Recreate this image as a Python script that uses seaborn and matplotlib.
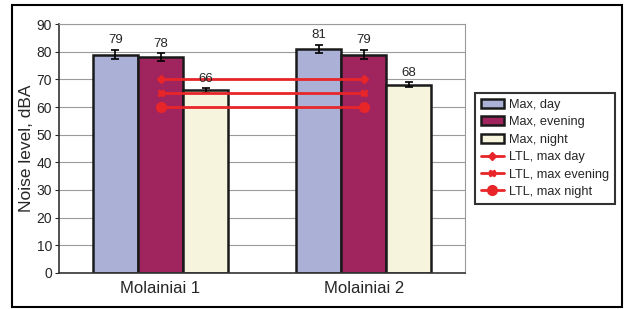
import seaborn as sns
import matplotlib.pyplot as plt
import pandas as pd
from matplotlib.patches import Rectangle

sites = ['Molainiai 1', 'Molainiai 2']
series = ['Max, day', 'Max, evening', 'Max, night']
max_day = [79, 81]
max_evening = [78, 79]
max_night = [66, 68]
err_day = [1.8, 1.6]
err_evening = [1.5, 1.8]
err_night = [0.8, 0.9]

ltl_names = ['LTL, max day', 'LTL, max evening', 'LTL, max night']
ltl_values = [70, 65, 60]
ltl_markers = ['D', 'X', 'o']
ltl_sizes = [4, 5, 7]

colors = ['#aab0d6', '#a0245e', '#f6f4dc']

df = pd.DataFrame({
    'site': sites * 3,
    'series': [s for s in series for _ in sites],
    'value': max_day + max_evening + max_night,
    'err': err_day + err_evening + err_night,
})

sns.set_style('white')
plt.rcParams['font.family'] = ['Liberation Sans', 'DejaVu Sans']

fig = plt.figure(figsize=(6.27, 3.09), dpi=100)
ax = fig.add_axes([0.094, 0.117, 0.648, 0.805])

sns.barplot(data=df, x='site', y='value', hue='series', palette=colors,
            errorbar=None, width=0.665, edgecolor='#1a1a1a', linewidth=1.8,
            saturation=1, ax=ax, zorder=2)

# error bars + value labels on the bars
for cont, s in zip(ax.containers, series):
    sub = df[df['series'] == s]
    for bar, v, e in zip(cont, sub['value'], sub['err']):
        cx = bar.get_x() + bar.get_width() / 2
        ax.errorbar(cx, v, yerr=e, color='black', capsize=3, elinewidth=1.2,
                    capthick=1.2, zorder=3)
        ax.text(cx, v + e + 1.2, str(v), ha='center', va='bottom',
                fontsize=9.5, zorder=6)

# LTL lines between the two sites
line_handles = []
for name, val, m, ms in zip(ltl_names, ltl_values, ltl_markers, ltl_sizes):
    h, = ax.plot([0, 1], [val, val], color='#e8262a', lw=2, marker=m,
                 markersize=ms, zorder=4, label=name)
    line_handles.append(h)

ax.set_ylim(0, 90)
ax.set_yticks(range(0, 91, 10))
ax.set_xlim(-0.5, 1.5)
ax.yaxis.grid(True, color='#9a9a9a', lw=0.8, zorder=0)
ax.set_axisbelow(True)
ax.set_xlabel('')
ax.set_ylabel('Noise level, dBA', fontsize=12.5, labelpad=2)
ax.tick_params(axis='y', labelsize=10, length=3, left=True, pad=2)
ax.tick_params(axis='x', labelsize=12, length=0, pad=6)
for side in ['top', 'right']:
    ax.spines[side].set_color('#9a9a9a')
    ax.spines[side].set_linewidth(0.8)
for side in ['left', 'bottom']:
    ax.spines[side].set_color('#333333')
    ax.spines[side].set_linewidth(1.2)

bar_handles, _ = ax.get_legend_handles_labels()
handles = bar_handles[:3] + line_handles
leg = ax.legend(handles, series + ltl_names, loc='center left',
                bbox_to_anchor=(1.024, 0.5), frameon=True, fancybox=False,
                fontsize=9.2, handlelength=1.8, handletextpad=0.4,
                labelspacing=0.42, borderpad=0.45, borderaxespad=0)
leg.get_frame().set_edgecolor('black')
leg.get_frame().set_linewidth(1.5)

fig.patches.append(Rectangle((12 / 627, 2 / 309), 610 / 627, 302 / 309,
                             transform=fig.transFigure, fill=False,
                             edgecolor='black', lw=1.5))

fig.savefig('out.png', dpi=100)
